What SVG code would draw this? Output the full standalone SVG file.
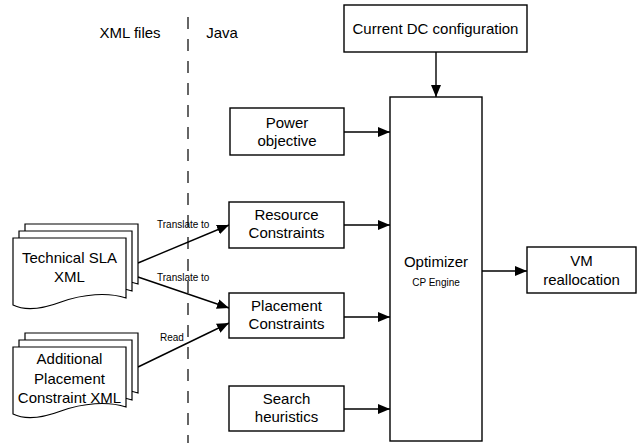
<svg xmlns="http://www.w3.org/2000/svg" width="637" height="443" viewBox="0 0 637 443">
<style>
.box{fill:#fff;stroke:#000;stroke-width:1.4}
.doc{fill:#fff;stroke:#000;stroke-width:1.2}
.t{font-family:"Liberation Sans",Arial,sans-serif;font-size:15px;fill:#000;text-anchor:middle}
.s{font-family:"Liberation Sans",Arial,sans-serif;font-size:10px;fill:#000}
.c{stroke:#000;stroke-width:1.4;fill:none}
</style>
<defs>
<marker id="ah" viewBox="0 0 12 10" refX="12" refY="5" markerWidth="12" markerHeight="10" markerUnits="userSpaceOnUse" orient="auto">
<path d="M0,0 L12,5 L0,10 Z" fill="#000"/>
</marker>
<path id="page" d="M0,0 H113 V60 C95,54 70,56 48,64 C32,70 14,74 0,67 Z"/>
</defs>
<rect width="637" height="443" fill="#fff"/>
<g id="lanes">
<line x1="188" y1="17" x2="188" y2="443" stroke="#000" stroke-width="1.2" stroke-dasharray="12,10"/>
<text class="t" x="130" y="38">XML files</text>
<text class="t" x="222" y="38" style="text-anchor:middle">Java</text>
</g>
<g id="connectors">
<line class="c" x1="436" y1="52" x2="436" y2="97" marker-end="url(#ah)"/>
<line class="c" x1="344" y1="132" x2="390" y2="132" marker-end="url(#ah)"/>
<line class="c" x1="344" y1="225" x2="390" y2="225" marker-end="url(#ah)"/>
<line class="c" x1="344" y1="317" x2="390" y2="317" marker-end="url(#ah)"/>
<line class="c" x1="344" y1="409" x2="390" y2="409" marker-end="url(#ah)"/>
<line class="c" x1="482" y1="271" x2="527" y2="271" marker-end="url(#ah)"/>
<line class="c" x1="138" y1="263" x2="229" y2="225" marker-end="url(#ah)"/>
<line class="c" x1="138" y1="277" x2="229" y2="308" marker-end="url(#ah)"/>
<line class="c" x1="138" y1="367" x2="229" y2="323" marker-end="url(#ah)"/>
<text class="s" x="157" y="228">Translate to</text>
<text class="s" x="157" y="281">Translate to</text>
<text class="s" x="160" y="341">Read</text>
</g>
<g id="current-dc">
<rect class="box" x="344" y="5" width="183" height="47"/>
<text class="t" x="435.5" y="34">Current DC configuration</text>
</g>
<g id="power">
<rect class="box" x="230" y="108" width="114" height="47"/>
<text class="t" x="287" y="128">Power</text>
<text class="t" x="287" y="146">objective</text>
</g>
<g id="resource">
<rect class="box" x="229" y="202" width="115" height="46"/>
<text class="t" x="286.5" y="220">Resource</text>
<text class="t" x="286.5" y="238">Constraints</text>
</g>
<g id="placement">
<rect class="box" x="229" y="293" width="115" height="45"/>
<text class="t" x="286.5" y="311">Placement</text>
<text class="t" x="286.5" y="329">Constraints</text>
</g>
<g id="search">
<rect class="box" x="229" y="386" width="115" height="45"/>
<text class="t" x="286.5" y="404">Search</text>
<text class="t" x="286.5" y="422">heuristics</text>
</g>
<g id="optimizer">
<rect class="box" x="390" y="97" width="92" height="344"/>
<text class="t" x="436" y="267">Optimizer</text>
<text class="s" x="436" y="286" style="text-anchor:middle">CP Engine</text>
</g>
<g id="vm">
<rect class="box" x="527" y="247" width="109" height="46"/>
<text class="t" x="581.5" y="266">VM</text>
<text class="t" x="581.5" y="285">reallocation</text>
</g>
<g id="technical-sla">
<use href="#page" class="doc" x="25" y="224"/>
<use href="#page" class="doc" x="19" y="231"/>
<use href="#page" class="doc" x="13" y="238"/>
<text class="t" x="69.5" y="263">Technical SLA</text>
<text class="t" x="69.5" y="282">XML</text>
</g>
<g id="additional">
<use href="#page" class="doc" x="25" y="333"/>
<use href="#page" class="doc" x="19" y="340"/>
<use href="#page" class="doc" x="13" y="347"/>
<text class="t" x="69.5" y="364">Additional</text>
<text class="t" x="69.5" y="384">Placement</text>
<text class="t" x="69.5" y="403">Constraint XML</text>
</g>
</svg>
